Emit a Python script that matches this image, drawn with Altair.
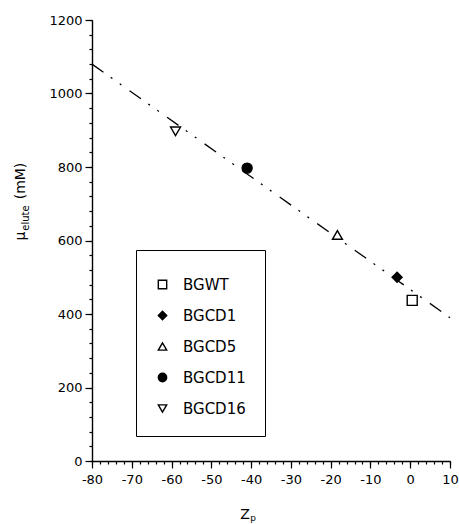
import altair as alt
import pandas as pd

FONT = "DejaVu Sans"

# --- data ---
mutants = ["BGWT", "BGCD1", "BGCD5", "BGCD11", "BGCD16"]
zp_values = [0.5, -3.3, -18.3, -41.0, -59.0]
mu_elute = [437, 500, 615, 797, 897]
shapes = ["square", "diamond", "triangle-up", "circle", "triangle-down"]
fills = ["white", "black", "white", "black", "white"]
strokes = ["black", "black", "black", "black", "black"]

fit_x = [-80, 10]
fit_y = [1080, 390]

x_major = list(range(-80, 11, 10))
y_major = list(range(0, 1201, 200))
x_minor = list(range(-80, 11, 2))
y_minor = list(range(0, 1201, 40))

df = pd.DataFrame({"mutant": mutants, "zp": zp_values, "mu": mu_elute})
line_df = pd.DataFrame({"zp": fit_x, "mu": fit_y})

x_scale = alt.Scale(domain=[-80, 10], nice=False, zero=False)
y_scale = alt.Scale(domain=[0, 1200], nice=False, zero=False)

x_axis_major = alt.Axis(
    title=None, orient="bottom", values=x_major,
    labelExpr="'' + datum.value",
    tickSize=7, labelPadding=5,
    labelOverlap=False, labelBound=False, labelFlush=False, grid=False,
)
y_axis_major = alt.Axis(
    title=None, orient="left", values=y_major,
    labelExpr="'' + datum.value",
    tickSize=7, labelPadding=3,
    labelOverlap=False, labelBound=False, labelFlush=False, grid=False,
)
x_axis_minor = alt.Axis(
    title=None, orient="bottom", values=x_minor, labels=False,
    tickSize=3, domain=False, grid=False,
)
y_axis_minor = alt.Axis(
    title=None, orient="left", values=y_minor, labels=False,
    tickSize=3, domain=False, grid=False,
)

leg = alt.Legend(
    orient="none",
    legendX=44,
    legendY=230,
    title=" ",
    titleFontSize=8,
    titlePadding=0,
    padding=19,
    strokeColor="black",
    fillColor="white",
    labelFont=FONT,
    labelFontSize=15,
    labelColor="black",
    symbolSize=70,
    symbolStrokeWidth=1.4,
    rowPadding=15,
    labelOffset=13,
)

line = alt.Chart(line_df).mark_line(
    color="black", strokeWidth=1.3, strokeDash=[14, 9, 2, 9, 2, 10]
).encode(
    x=alt.X("zp:Q", scale=x_scale, axis=x_axis_minor),
    y=alt.Y("mu:Q", scale=y_scale, axis=y_axis_minor),
)

points = alt.Chart(df).mark_point(
    filled=True, size=100, strokeWidth=1.4, opacity=1
).encode(
    x=alt.X("zp:Q", scale=x_scale, axis=x_axis_major),
    y=alt.Y("mu:Q", scale=y_scale, axis=y_axis_major),
    shape=alt.Shape("mutant:N", scale=alt.Scale(domain=mutants, range=shapes), legend=leg),
    fill=alt.Fill("mutant:N", scale=alt.Scale(domain=mutants, range=fills), legend=leg),
    stroke=alt.Stroke("mutant:N", scale=alt.Scale(domain=mutants, range=strokes), legend=leg),
)


def txt(s, x, y, size, angle=0):
    return alt.Chart(alt.Data(values=[{}])).mark_text(
        text=s, font=FONT, fontSize=size, angle=angle,
        align="center", baseline="middle", color="black",
    ).encode(x=alt.value(x), y=alt.value(y))


texts = [
    txt("μ", -71, 216, 14, 270),
    txt("elute", -66, 198, 10, 270),
    txt("(mM)", -71, 161, 14, 270),
    txt("Z", 153, 495, 14),
    txt("p", 161, 498, 9),
]

chart = alt.layer(line, points, *texts).resolve_axis(
    x="independent", y="independent"
).properties(
    width=358,
    height=441,
    padding={"left": 92, "top": 20, "right": 9, "bottom": 63},
    autosize=alt.AutoSizeParams(type="none"),
    background="white",
).configure_view(stroke=None).configure_axis(
    domainColor="black",
    domainWidth=1.4,
    tickColor="black",
    tickWidth=1.2,
    labelFont=FONT,
    labelFontSize=13,
    labelColor="black",
)

chart.save("out.html", embed_options={"renderer": "svg", "actions": False})
